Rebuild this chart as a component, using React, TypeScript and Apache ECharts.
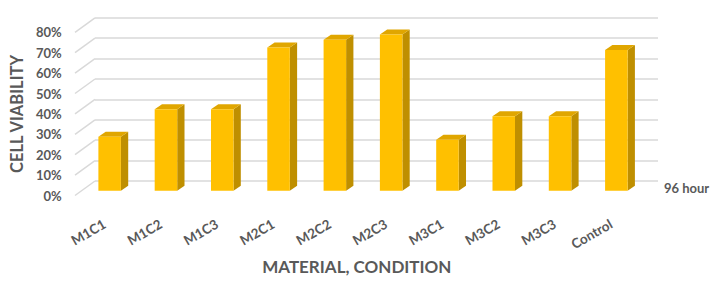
import React, { useEffect, useRef } from "react";
import * as echarts from "echarts";

const categories = ["M1C1", "M1C2", "M1C3", "M2C1", "M2C2", "M2C3", "M3C1", "M3C2", "M3C3", "Control"];
const viability = [26.5, 40, 40, 70.3, 74, 76.6, 25, 36.6, 36.6, 69];
const yTicks = [0, 10, 20, 30, 40, 50, 60, 70, 80];
const seriesLabel = "96 hour";
const yTitle = "CELL VIABILITY";
const xTitle = "MATERIAL, CONDITION";

const FONT = "Lato, 'DejaVu Sans', sans-serif";
const TEXT = "#595959";
const GRID_LINE = "#D9D9D9";
const FRONT = "#FFC000";
const SIDE = "#BF8F00";
const TOP = "#E0A600";

export default function App() {
  const ref = useRef<HTMLDivElement>(null);
  useEffect(() => {
    if (!ref.current) return;
    const chart = echarts.init(ref.current, undefined, { renderer: "svg" });
    const depthDx = 20;
    const depthDy = 14.5;
    const barDx = 7.3;
    const barDy = 5;
    chart.setOption({
      animation: false,
      backgroundColor: "#ffffff",
      grid: [
        // back wall
        { left: 95, right: 62, top: 17.8, bottom: 101 },
        // bar front plane
        { left: 81.5, right: 75.5, top: 27.6, bottom: 91.2 },
        // front floor edge
        { left: 75, right: 82, top: 32.3, bottom: 86.5 },
      ],
      xAxis: [
        {
          gridIndex: 0, type: "category", data: categories, boundaryGap: true,
          axisLine: { show: false }, axisTick: { show: false }, axisLabel: { show: false },
        },
        {
          gridIndex: 1, type: "category", data: categories, boundaryGap: true,
          axisLine: { show: false }, axisTick: { show: false },
          axisLabel: {
            rotate: 30, margin: 29, color: TEXT, fontFamily: FONT, fontWeight: "bold",
            fontSize: 13.5, padding: [0, 6, 0, 0], interval: 0,
          },
        },
        {
          gridIndex: 2, type: "category", data: categories,
          axisLine: { show: false }, axisTick: { show: false }, axisLabel: { show: false },
          name: xTitle, nameLocation: "middle", nameGap: 62,
          nameTextStyle: { color: TEXT, fontFamily: FONT, fontWeight: "bold", fontSize: 17 },
        },
      ],
      yAxis: [
        {
          gridIndex: 0, type: "value", min: 0, max: 80, interval: 10,
          axisLine: { show: false }, axisTick: { show: false }, axisLabel: { show: false },
          splitLine: { show: true, lineStyle: { color: GRID_LINE, width: 1.5 } },
        },
        {
          gridIndex: 1, type: "value", min: 0, max: 80, interval: 10,
          axisLine: { show: false }, axisTick: { show: false }, axisLabel: { show: false },
          splitLine: { show: false },
        },
        {
          gridIndex: 2, type: "value", min: 0, max: 80, interval: 10,
          axisLine: { show: false }, axisTick: { show: false }, splitLine: { show: false },
          axisLabel: {
            formatter: "{value}%", margin: 14, color: TEXT, fontFamily: FONT,
            fontWeight: "bold", fontSize: 13,
          },
          name: yTitle, nameLocation: "middle", nameGap: 50,
          nameTextStyle: { color: TEXT, fontFamily: FONT, fontWeight: "bold", fontSize: 16.5 },
        },
      ],
      series: [
        {
          type: "custom",
          xAxisIndex: 0, yAxisIndex: 0,
          silent: true,
          data: yTicks.map((t) => [0, t]),
          renderItem: (params: any, api: any) => {
            const p = api.coord([0, api.value(1)]);
            const x0 = params.coordSys.x;
            return {
              type: "line",
              shape: { x1: x0 - depthDx, y1: p[1] + depthDy, x2: x0, y2: p[1] },
              style: { stroke: GRID_LINE, lineWidth: 1.5 },
            };
          },
        },
        {
          type: "custom",
          name: seriesLabel,
          xAxisIndex: 1, yAxisIndex: 1,
          data: viability.map((v, i) => [i, v]),
          renderItem: (params: any, api: any) => {
            const top = api.coord([api.value(0), api.value(1)]);
            const base = api.coord([api.value(0), 0]);
            const w = api.size([1, 0])[0] * 0.4;
            const x = top[0] - w / 2;
            const yt = top[1];
            const yb = base[1];
            return {
              type: "group",
              children: [
                {
                  type: "polygon",
                  shape: { points: [[x + w, yt], [x + w + barDx, yt - barDy], [x + w + barDx, yb - barDy], [x + w, yb]] },
                  style: { fill: SIDE },
                },
                {
                  type: "polygon",
                  shape: { points: [[x, yt], [x + barDx, yt - barDy], [x + w + barDx, yt - barDy], [x + w, yt]] },
                  style: { fill: TOP },
                },
                {
                  type: "rect",
                  shape: { x, y: yt, width: w, height: yb - yt },
                  style: { fill: FRONT },
                },
              ],
            };
          },
        },
      ],
      graphic: [
        {
          type: "text", left: 664, top: 181,
          style: { text: seriesLabel, fill: TEXT, font: `bold 13px ${FONT}` },
        },
      ],
    });
    return () => chart.dispose();
  }, []);
  return <div ref={ref} style={{ position: "fixed", left: 0, top: 0, width: 720, height: 282 }} />;
}
